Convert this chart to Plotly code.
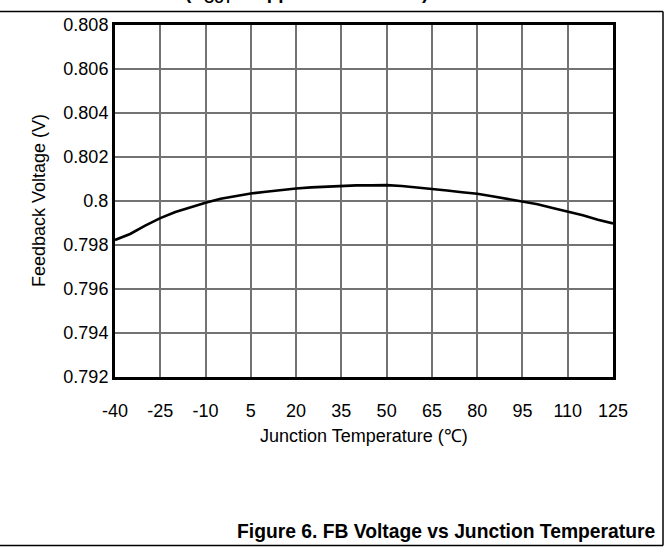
import plotly.graph_objects as go

# Data
temps = [-40, -37, -35, -30, -25, -20, -15, -10, -5, 0, 5, 10, 15, 20, 25, 30, 35,
         40, 45, 50, 55, 60, 65, 70, 75, 80, 85, 90, 95, 100, 105, 110, 115, 120, 125]
fb_voltage = [0.79823, 0.79840, 0.79850, 0.79888, 0.79922, 0.79950, 0.79972, 0.79992,
              0.80010, 0.80022, 0.80034, 0.80042, 0.80050, 0.80057, 0.80062, 0.80066,
              0.80069, 0.80071, 0.80071, 0.80072, 0.80068, 0.80062, 0.80056, 0.80048,
              0.80040, 0.80033, 0.80022, 0.80010, 0.80000, 0.79985, 0.79968, 0.79952,
              0.79935, 0.79915, 0.79898]
x_ticks = [-40, -25, -10, 5, 20, 35, 50, 65, 80, 95, 110, 125]
x_tick_text = ["-40", "-25", "-10", "5", "20", "35", "50", "65", "80", "95", "110", "125"]
y_ticks = [0.792, 0.794, 0.796, 0.798, 0.800, 0.802, 0.804, 0.806, 0.808]
y_tick_text = ["0.792", "0.794", "0.796", "0.798", "0.8", "0.802", "0.804", "0.806", "0.808"]

FONT = "Arial, Liberation Sans, sans-serif"

fig = go.Figure()
fig.add_trace(go.Scatter(x=temps, y=fb_voltage, mode="lines",
                         line=dict(color="black", width=2.6), showlegend=False,
                         hoverinfo="skip"))

axis_common = dict(showline=True, linecolor="black", linewidth=3, mirror=True,
                   showgrid=True, gridcolor="#737373", gridwidth=1.5,
                   zeroline=False, ticks="",
                   tickfont=dict(family=FONT, size=18, color="black"))

fig.update_xaxes(range=[-40, 125], tickvals=x_ticks, ticktext=x_tick_text,
                 ticklabelstandoff=15, **axis_common)
fig.update_yaxes(range=[0.792, 0.808], tickvals=y_ticks, ticktext=y_tick_text,
                 ticklabelstandoff=0, **axis_common)

# Plot area: x 115..613 px, y 25..377 px
PL, PR, PT, PB = 115, 613, 25, 377
W, H = 669, 550

def px(x):
    return (x - PL) / (PR - PL)

def py(y):
    return (PB - y) / (PB - PT)

annotations = [
    dict(text="Feedback Voltage (V)", x=px(38.5), y=py(200.5), textangle=-90,
         xanchor="center", yanchor="middle", font=dict(family=FONT, size=18, color="black")),
    dict(text="Junction Temperature (℃)", x=px(364), y=py(436),
         xanchor="center", yanchor="middle", font=dict(family=FONT, size=18, color="black")),
    dict(text="<b>Figure 6. FB Voltage vs Junction Temperature</b>", x=px(445.5), y=py(531),
         xanchor="center", yanchor="middle", font=dict(family=FONT, size=19.3, color="black")),
    dict(text="<b>(V<sub>OUT</sub> = Application Circuit)</b>", x=px(183), y=py(-5.5),
         xanchor="left", yanchor="middle", font=dict(family=FONT, size=19, color="black")),
]
for a in annotations:
    a.update(xref="paper", yref="paper", showarrow=False)

shapes = [
    # outer frame (top, right, bottom)
    dict(type="line", x0=px(-5), x1=px(663), y0=py(11.5), y1=py(11.5)),
    dict(type="line", x0=px(663), x1=px(663), y0=py(11.5), y1=py(545.5)),
    dict(type="line", x0=px(-5), x1=px(663), y0=py(545.5), y1=py(545.5)),
]
for s in shapes:
    s.update(xref="paper", yref="paper", line=dict(color="black", width=1.5))

fig.update_layout(
    width=W, height=H,
    margin=dict(l=PL, r=W - PR, t=PT, b=H - PB),
    paper_bgcolor="white", plot_bgcolor="white",
    annotations=annotations, shapes=shapes,
    font=dict(family=FONT, color="black"),
)

fig.write_html("out.html", config={"displayModeBar": False},
               post_script="document.body.style.margin='0';document.body.style.padding='0';")
